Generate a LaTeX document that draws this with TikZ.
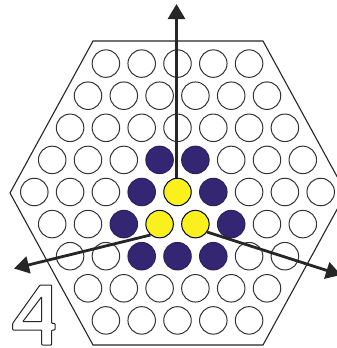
\documentclass[tikz,border=0pt]{standalone}
\usetikzlibrary{arrows.meta}
\definecolor{discpurple}{RGB}{52,38,115}
\definecolor{discyellow}{RGB}{250,240,30}
\expandafter\def\csname col-4-4\endcsname{purp}
\expandafter\def\csname col-4-5\endcsname{purp}
\expandafter\def\csname col-5-4\endcsname{purp}
\expandafter\def\csname col-5-5\endcsname{yell}
\expandafter\def\csname col-5-6\endcsname{purp}
\expandafter\def\csname col-6-3\endcsname{purp}
\expandafter\def\csname col-6-4\endcsname{yell}
\expandafter\def\csname col-6-5\endcsname{yell}
\expandafter\def\csname col-6-6\endcsname{purp}
\expandafter\def\csname col-7-3\endcsname{purp}
\expandafter\def\csname col-7-4\endcsname{purp}
\expandafter\def\csname col-7-5\endcsname{purp}
\begin{document}
\begin{tikzpicture}[x=1pt,y=-1pt,
  hole/.style={circle, draw=black!80, line width=1pt, minimum size=27.5pt, inner sep=0pt, fill=white},
  purp/.style={hole, draw=discpurple!85!black, fill=discpurple},
  yell/.style={hole, draw=black, fill=discyellow},
  axis/.style={line width=2.8pt, draw=black!85, -{Triangle[length=15pt,width=17pt]}},
  frame/.style={draw=black!85, line width=1.1pt}]
\clip (0,0) rectangle (337,348);
\fill[white] (0,0) rectangle (337,348);
\draw[frame] (93,41) -- (263,41) -- (346,193) -- (263,345) -- (93,345) -- (10,193) -- cycle;
\foreach \r in {1,...,9}{
  \pgfmathtruncatemacro{\n}{9-abs(\r-5)}
  \foreach \i in {1,...,\n}{
    \ifcsname col-\r-\i\endcsname
      \edef\sty{\csname col-\r-\i\endcsname}%
    \else
      \def\sty{hole}%
    \fi
    \node[\sty] (c-\r-\i) at ({177.5+(\i-(\n+1)/2)*35.8},{192+(\r-5)*32.1}) {};
  }
}
\coordinate (tipU) at (176.5,4);
\coordinate (tipL) at (14,268.5);
\coordinate (tipR) at (341,275);
\draw[axis] ([xshift=-1pt]c-5-5.north) -- (tipU);
\draw[axis] (c-6-4.230) -- (tipL);
\draw[axis] (c-6-5.326) -- (tipR);
\draw[frame, line width=1pt, rounded corners=0.8pt]
  (40,285) -- (12.7,323.3) -- (12.7,330) -- (41.7,330) -- (41.7,345) -- (51.7,345)
  -- (51.7,330) -- (55,330) -- (55,323.3) -- (51.7,323.3) -- (51.7,285) -- cycle
  (41.7,296.7) -- (22.7,321.7) -- (41.7,321.7) -- cycle;
\end{tikzpicture}
\end{document}
